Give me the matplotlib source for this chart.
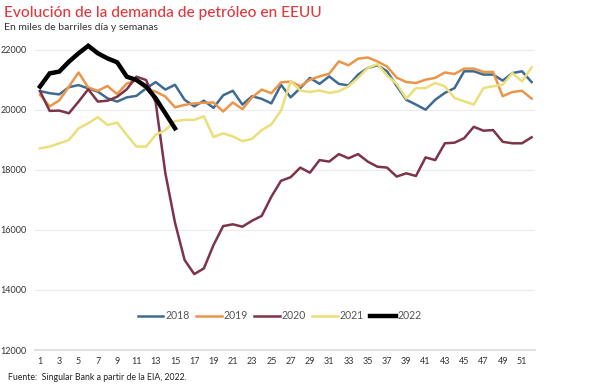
import matplotlib
matplotlib.use("Agg")
import matplotlib.pyplot as plt

plt.rcParams['font.family'] = ['Lato', 'DejaVu Sans']

weeks = list(range(1, 53))

s2018 = [20630, 20560, 20520, 20760, 20830, 20720, 20610, 20390, 20280, 20420,
         20470, 20720, 20930, 20680, 20840, 20340, 20120, 20310, 20070, 20490,
         20640, 20180, 20460, 20370, 20220, 20840, 20420, 20730, 21070, 20870,
         21120, 20870, 20820, 21180, 21400, 21490, 21290, 20800, 20340, 20180,
         20010, 20340, 20570, 20730, 21290, 21290, 21180, 21180, 20980, 21230,
         21290, 20930]
s2019 = [20510, 20120, 20320, 20780, 21250, 20750, 20640, 20800, 20530, 20880,
         20990, 20720, 20610, 20450, 20090, 20170, 20220, 20240, 20250, 19950,
         20250, 20030, 20420, 20680, 20560, 20920, 20950, 20790, 21010, 21120,
         21210, 21620, 21490, 21710, 21750, 21620, 21450, 21080, 20930, 20900,
         21010, 21070, 21250, 21200, 21380, 21380, 21270, 21270, 20460, 20600,
         20640, 20380]
s2020 = [20630, 19970, 19980, 19890, 20280, 20690, 20280, 20310, 20440, 20690,
         21110, 21000, 20250, 17900, 16250, 15000, 14530, 14720, 15500, 16130,
         16190, 16110, 16310, 16470, 17110, 17640, 17760, 18080, 17910, 18330,
         18280, 18530, 18390, 18530, 18280, 18110, 18080, 17780, 17890, 17800,
         18420, 18330, 18890, 18910, 19060, 19440, 19310, 19330, 18940, 18890,
         18890, 19090]
s2021 = [18720, 18780, 18890, 19000, 19390, 19560, 19760, 19500, 19580, 19170,
         18780, 18780, 19170, 19330, 19630, 19670, 19670, 19790, 19100, 19220,
         19120, 18960, 19040, 19330, 19520, 19980, 20960, 20650, 20600, 20650,
         20570, 20620, 20790, 21070, 21400, 21530, 21150, 20870, 20380, 20730,
         20730, 20900, 20790, 20400, 20290, 20180, 20730, 20790, 20840, 21230,
         20950, 21420]
s2022 = [20780, 21220, 21280, 21610, 21890, 22140, 21890, 21720, 21590, 21110,
         21000, 20780, 20390, 19890, 19390]

series_labels = ["2018", "2019", "2020", "2021", "2022"]
colors = ["#3f6b92", "#e9964b", "#7d3448", "#ebdf7c", "#000000"]
widths = [1.8, 1.8, 1.8, 1.8, 3.2]

yticks = [12000, 14000, 16000, 18000, 20000, 22000]
xticks = list(range(1, 52, 2))

fig = plt.figure(figsize=(6, 3.91), dpi=100)
ax = fig.add_axes([35/600, 1-350/391, 500/600, 310/391])

data = [s2018, s2019, s2020, s2021, s2022]
for vals, lab, c, lw in zip(data, series_labels, colors, widths):
    ax.plot(weeks[:len(vals)], vals, color=c, lw=lw, label=lab,
            solid_joinstyle='miter' if lw > 3 else 'round')

ax.set_xlim(0.48, 52.35)
ax.set_ylim(12000, 22333)
ax.set_yticks(yticks)
ax.set_yticklabels([str(v) for v in yticks])
ax.set_xticks(xticks)
ax.set_xticklabels([str(v) for v in xticks])
ax.tick_params(axis='both', length=0, labelsize=6.5, colors='#333333')
ax.tick_params(axis='y', pad=6)
ax.tick_params(axis='x', pad=5)
ax.grid(axis='y', color='#ececec', lw=0.8)
ax.set_axisbelow(True)
for sp in ['top', 'right', 'left']:
    ax.spines[sp].set_visible(False)
ax.spines['bottom'].set_color('#e0e0e0')
ax.spines['bottom'].set_linewidth(1.5)

leg = ax.legend(loc='center', bbox_to_anchor=(0.49, 0.11), ncol=5, frameon=False,
                handlelength=2.4, columnspacing=0.6, handletextpad=0.2,
                fontsize=7.6, labelcolor='#555555')

fig.text(0.006, 0.985, "Evolución de la demanda de petróleo en EEUU", color="#e0383c",
         fontsize=11.2, va='top', ha='left', fontweight='medium')
fig.text(0.006, 0.94, "En miles de barriles día y semanas", color="#333333",
         fontsize=7.5, va='top', ha='left')
fig.text(0.013, 0.022, "Fuente:  Singular Bank a partir de la EIA, 2022.", color="#222222",
         fontsize=6.3, va='bottom', ha='left')

fig.savefig("out.png", dpi=100)
